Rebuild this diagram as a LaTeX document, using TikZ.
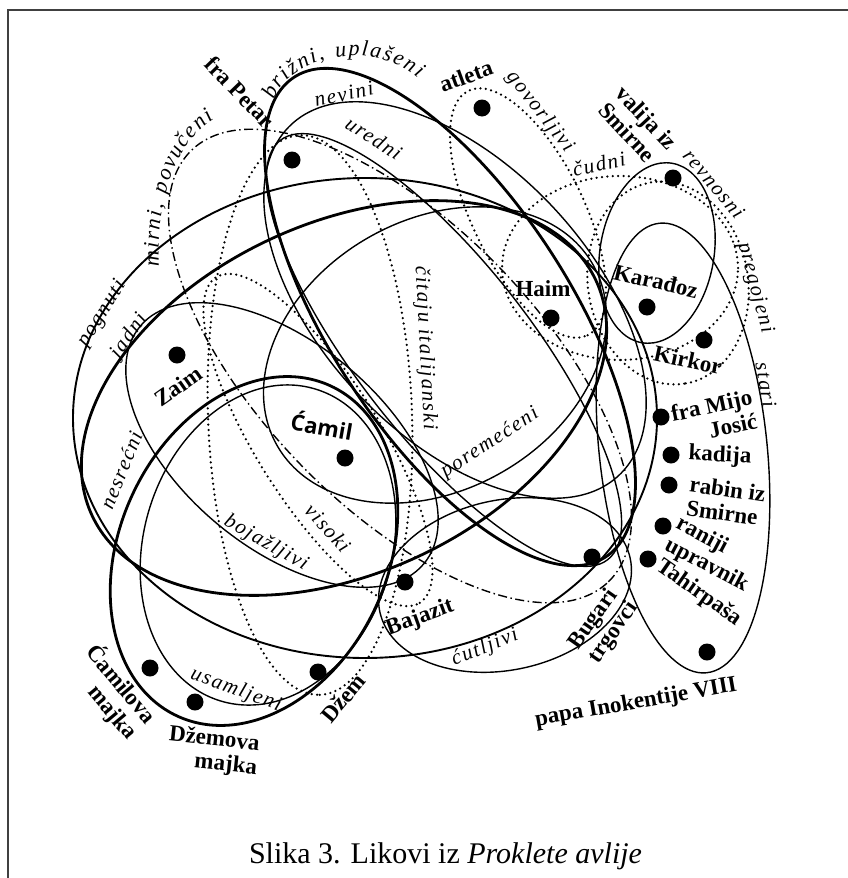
\documentclass[tikz,border=0pt]{standalone}
\usepackage{fontspec}
\setmainfont{Liberation Serif}
\newfontfamily\traitfont{Liberation Serif}[LetterSpace=8]
\newfontfamily\camilfont{Open Sans}
\usetikzlibrary{decorations.text}

\tikzset{
  heavy/.style={line width=2.8pt},
  medium/.style={line width=1.9pt},
  light/.style={line width=1.4pt},
  dotline/.style={line width=2.5pt, dash pattern=on 0pt off 5.4pt, line cap=round},
  dashdotline/.style={line width=1.4pt, dash pattern=on 9pt off 3.5pt on 1.5pt off 3.5pt},
  person/.style={circle, fill=black, inner sep=0pt, minimum size=17pt},
  who/.style={font=\bfseries\fontsize{23}{24}\selectfont, align=left},
  trait/.style={font=\traitfont\itshape\fontsize{21}{21}\selectfont}
}

\begin{document}
\begin{tikzpicture}[x=10pt,y=10pt]
\tikzstyle{every node}+=[inner sep=0pt]
\useasboundingbox (0,0) rectangle (84.8,-87.8);
\draw [line width=1.6pt, black!75] (0.8,-87.8) -- (0.8,-1.0) -- (84.8,-1.0);
\draw [heavy, rotate around={-57:(45.0,-31.7)}] (45.0,-31.7) ellipse (28.6 and 12.0);
\draw [light, rotate around={-47:(45.5,-30.0)}] (45.5,-30.0) ellipse (24.0 and 13.5);
\draw [light, rotate around={-52:(44.4,-35.0)}] (44.4,-35.0) ellipse (26.6 and 8.7);
\draw [dashdotline, rotate around={-46:(40.0,-36.6)}] (40.0,-36.6) ellipse (30.0 and 14.0);
\draw [medium] (36.5,-41.8) ellipse (29.2 and 24.0);
\draw [heavy, rotate around={25:(34.4,-39.8)}] (34.4,-39.8) ellipse (27.8 and 17.5);
\draw [heavy, rotate around={65:(25.4,-55.1)}] (25.4,-55.1) ellipse (18.2 and 13.4);
\draw [light, rotate around={73:(26.8,-54.5)}] (26.8,-54.5) ellipse (16.3 and 12.4);
\draw [light, rotate around={-40:(28.2,-44.5)}] (28.2,-44.5) ellipse (18.5 and 10.2);
\draw [dotline, rotate around={-58:(31.8,-44.0)}] (31.8,-44.0) ellipse (19.2 and 6.2);
\draw [dotline, rotate around={-88:(31.0,-41.5)}] (31.0,-41.5) ellipse (28.0 and 10.2);
\draw [light, rotate around={30:(43.5,-35.5)}] (43.5,-35.5) ellipse (18.2 and 13.5);
\draw [dotline, rotate around={-64:(52.8,-21.3)}] (52.8,-21.3) ellipse (13.6 and 5.6);
\draw [dotline] (62.0,-26.8) ellipse (11.8 and 9.2);
\draw [dotline, rotate around={-80:(66.8,-28.3)}] (66.8,-28.3) ellipse (10.2 and 8.0);
\draw [light, rotate around={80.5:(65.7,-25.3)}] (65.7,-25.3) ellipse (9.1 and 5.7);
\draw [light, rotate around={-84:(68.3,-44.8)}] (68.3,-44.8) ellipse (22.6 and 8.4);
\draw [light, rotate around={12:(50.5,-58.5)}] (50.5,-58.5) ellipse (12.8 and 8.5);
\node [person] (petar) at (29.2,-16.0) {};
\node [person] (atleta) at (48.2,-10.8) {};
\node [person] (valija) at (67.3,-17.8) {};
\node [person] (haim) at (55.1,-31.8) {};
\node [person] (karadjoz) at (64.7,-30.7) {};
\node [person] (kirkor) at (70.4,-34.0) {};
\node [person] (zaim) at (17.7,-35.5) {};
\node [person] (camil) at (34.5,-45.8) {};
\node [person] (mijo) at (66.1,-41.7) {};
\node [person] (kadija) at (67.1,-45.5) {};
\node [person] (rabin) at (66.9,-48.5) {};
\node [person] (upravnik) at (66.3,-52.6) {};
\node [person] (tahir) at (64.8,-55.9) {};
\node [person] (papa) at (70.7,-65.2) {};
\node [person] (bugari) at (59.2,-55.7) {};
\node [person] (bajazit) at (40.5,-58.2) {};
\node [person] (dzem) at (31.8,-67.2) {};
\node [person] (cmajka) at (15.0,-66.8) {};
\node [person] (dmajka) at (19.5,-70.2) {};
\node [who, rotate=-46] (lpetar) at (24.0,-9.2) {fra Petar};
\node [who, rotate=20] (latleta) at (46.6,-7.6) {atleta};
\node [who, rotate=-47] (lvalija) at (63.8,-12.6) {valija iz\\Smirne};
\node [who] (lhaim) at (54.3,-28.9) {Haim};
\node [who, rotate=-13] (lkaradjoz) at (65.6,-28.1) {Karađoz};
\node [who, rotate=-12] (lkirkor) at (68.8,-36.0) {Kirkor};
\node [who, align=right, rotate=12] (lmijo) at (71.4,-41.7) {fra Mijo\\Josić};
\node [who, rotate=-3] (lkadija) at (72.0,-45.6) {kadija};
\node [who, rotate=-8] (lrabin) at (72.6,-50.1) {rabin iz\\Smirne};
\node [who, rotate=-28] (lupravnik) at (71.2,-55.5) {raniji\\upravnik};
\node [who, rotate=-35] (ltahir) at (69.9,-59.3) {Tahirpaša};
\node [who, rotate=10] (lpapa) at (63.6,-70.3) {papa Inokentije VIII};
\node [who, rotate=35] (lzaim) at (17.8,-38.6) {Zaim};
\node [font=\camilfont\bfseries\fontsize{22}{22}\selectfont, rotate=-10] (lcamil) at (32.2,-42.5) {Ćamil};
\node [who, rotate=20] (lbajazit) at (42.0,-61.8) {Bajazit};
\node [who, rotate=55] (lbugari) at (60.4,-62.6) {Bugari\\trgovci};
\node [who, rotate=50] (ldzem) at (34.3,-69.8) {Džem};
\node [who, align=right, rotate=-50] (lcmajka) at (11.2,-69.2) {Ćamilova\\majka};
\node [who, align=right, rotate=-6] (ldmajka) at (21.3,-75.2) {Džemova\\majka};
\path [decorate, decoration={text along path, text align={fit to path}, text={|\traitfont\itshape\fontsize{22}{22}\selectfont|brižni, uplašeni}}] (27.4,-10.0) .. controls (29.0,-5.6) and (37.0,-3.8) .. (41.8,-7.8);
\path [decorate, decoration={text along path, text align={fit to path}, text={|\traitfont\itshape\fontsize{22}{22}\selectfont|mirni, povučeni}}] (15.9,-26.6) .. controls (15.6,-20.0) and (17.4,-14.6) .. (21.4,-11.9);
\node [trait, rotate=12] (tnevini) at (34.4,-9.4) {nevini};
\node [trait, rotate=-33] (turedni) at (37.4,-13.8) {uredni};
\node [trait, rotate=58] (tpognuti) at (10.2,-31.4) {pognuti};
\node [trait, rotate=55] (tjadni) at (12.9,-33.6) {jadni};
\node [trait, rotate=68] (tnesrecni) at (12.1,-47.0) {nesrećni};
\node [trait, rotate=-87] (tcitaju) at (42.5,-34.8) {čitaju italijanski};
\node [trait, rotate=33] (tporemeceni) at (49.0,-44.3) {poremećeni};
\node [trait, rotate=-30] (tbojazljivi) at (26.6,-54.3) {bojažljivi};
\node [trait, rotate=-48] (tvisoki) at (32.8,-52.8) {visoki};
\node [trait, rotate=-20] (tusamljeni) at (23.6,-69.0) {usamljeni};
\node [trait, rotate=22] (tcutljivi) at (48.5,-64.8) {ćutljivi};
\node [trait, rotate=-52] (tgovorljivi) at (54.0,-11.2) {govorljivi};
\node [trait, rotate=12] (tcudni) at (59.9,-16.4) {čudni};
\node [trait, rotate=-50] (trevnosni) at (71.4,-18.4) {revnosni};
\node [trait, rotate=-75] (tpregojeni) at (75.5,-28.8) {pregojeni};
\node [trait, rotate=-80] (tstari) at (76.6,-38.5) {stari};
\node [anchor=base, font=\fontsize{30}{30}\selectfont] (caption) at (44.55,-86.3) {Slika 3. Likovi iz \textit{Proklete avlije}};
\end{tikzpicture}
\end{document}
